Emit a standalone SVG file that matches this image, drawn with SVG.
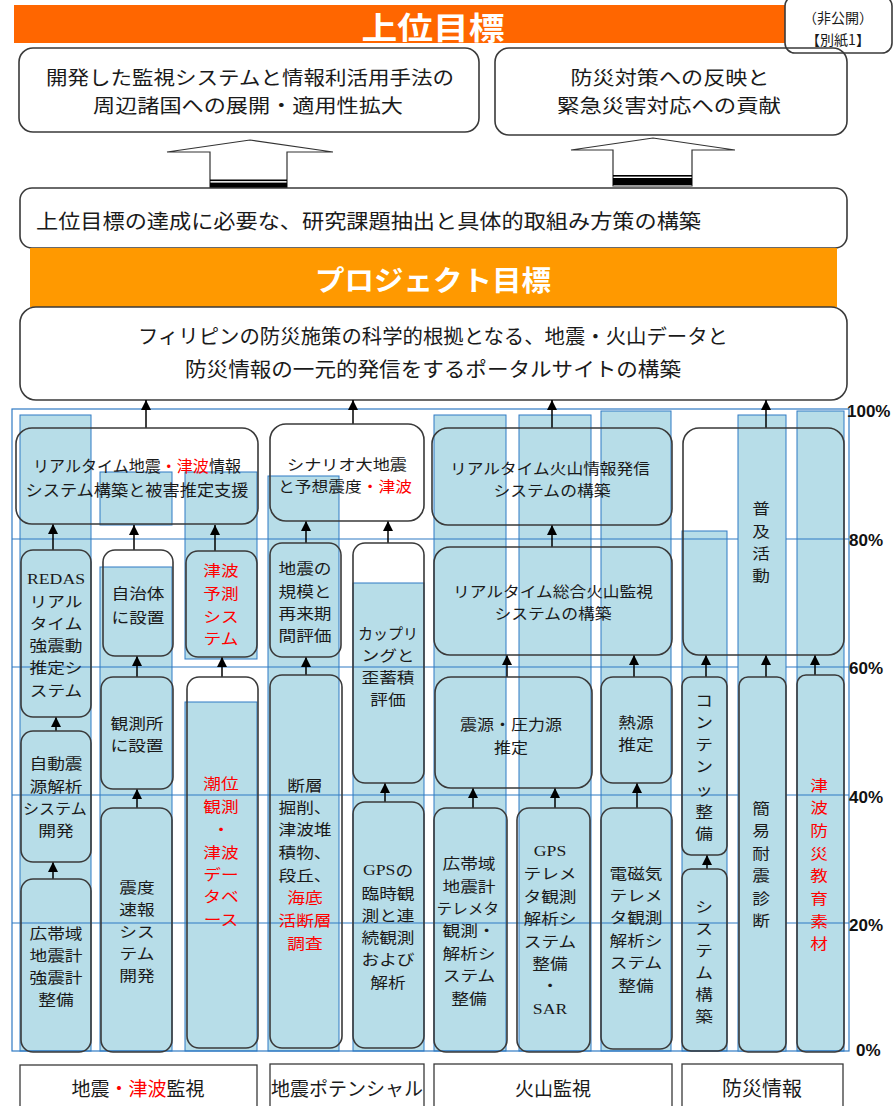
<svg xmlns="http://www.w3.org/2000/svg" width="896" height="1106" viewBox="0 0 896 1106">
<defs>
<marker id="ah" markerUnits="userSpaceOnUse" markerWidth="10" markerHeight="11" refX="10" refY="5" orient="auto" viewBox="0 0 10 10">
<path d="M0,0 L10,5 L0,10 z" fill="#000"/>
</marker>
<style>
text, tspan { font-family: "Noto Sans CJK JP", "Noto Sans", sans-serif; dominant-baseline: central; }
text { text-anchor: middle; fill: #1a1a1a; }
.c { font-size: 15px; }
.m { font-size: 15px; }
.big { font-size: 19px; }
.red { fill: #ff0000; }
.lat { font-family: "Liberation Serif", serif; }
.bar { fill: #b7dde8; stroke: #2f7ac4; stroke-width: 1; }
.grid { stroke: #2f7ac4; stroke-width: 1.2; fill: none; }
.box { fill: none; stroke: #3a3a3a; stroke-width: 1.6; }
.wbox { fill: #fff; stroke: #3a3a3a; stroke-width: 1.6; }
.cat { fill: #fff; stroke: #3a3a3a; stroke-width: 1.3; }
.arr { stroke: #000; stroke-width: 1.5; fill: none; marker-end: url(#ah); }
.pct { font-family: "Liberation Sans", sans-serif; font-weight: bold; font-size: 17px; text-anchor: start; fill: #111; }
.hollow { fill: #fff; stroke: #333; stroke-width: 1.2; }
</style>
</defs>
<rect width="896" height="1106" fill="#fff"/>

<!-- Header -->
<g id="banner-top">
<rect x="14" y="5" width="773" height="38" fill="#ff6600"/>
<text x="433" y="25" font-size="31" font-weight="bold" style="fill:#fff" textLength="143" lengthAdjust="spacingAndGlyphs">上位目標</text>
</g>
<g id="note">
<rect x="785" y="-4" width="107" height="57" rx="10" class="wbox"/>
<text x="838" y="17" font-size="14">（非公開）</text>
<text x="838" y="39" font-size="14">【別紙1】</text>
</g>
<g id="goalA">
<rect x="19" y="48" width="460" height="84" rx="14" class="box"/>
<text x="250" y="76.5" class="big" textLength="408" lengthAdjust="spacingAndGlyphs">開発した監視システムと情報利活用手法の</text>
<text x="248" y="104.5" class="big" textLength="310" lengthAdjust="spacingAndGlyphs">周辺諸国への展開・適用性拡大</text>
</g>
<g id="goalB">
<rect x="495" y="48" width="352" height="87" rx="14" class="box"/>
<text x="670" y="76.5" class="big" textLength="199" lengthAdjust="spacingAndGlyphs">防災対策への反映と</text>
<text x="669" y="104.5" class="big" textLength="224" lengthAdjust="spacingAndGlyphs">緊急災害対応への貢献</text>
</g>
<g id="bigArrows">
<polygon class="hollow" points="210,189 210,152 167,152 250,140 333,152 287,152 287,189"/>
<rect x="210" y="179.5" width="77" height="1.6" fill="#000"/>
<rect x="210" y="182.6" width="77" height="5.8" fill="#000"/>
<polygon class="hollow" points="613,186 613,150 571,150 653,138 735,150 692,150 692,186"/>
<rect x="613" y="175" width="79" height="1.6" fill="#000"/>
<rect x="613" y="178" width="79" height="7" fill="#000"/>
</g>
<g id="boxC">
<rect x="20" y="188" width="827" height="60" rx="12" class="wbox"/>
<text x="36" y="220" font-size="20" style="text-anchor:start" textLength="665" lengthAdjust="spacingAndGlyphs">上位目標の達成に必要な、研究課題抽出と具体的取組み方策の構築</text>
</g>
<g id="banner-project">
<rect x="30" y="248" width="807" height="59" fill="#ff9900"/>
<text x="433" y="279" font-size="28" font-weight="bold" style="fill:#fff" textLength="236" lengthAdjust="spacingAndGlyphs">プロジェクト目標</text>
</g>
<g id="boxD">
<rect x="20" y="307" width="827" height="93" rx="16" class="wbox"/>
<text x="433" y="335" font-size="20" textLength="590" lengthAdjust="spacingAndGlyphs">フィリピンの防災施策の科学的根拠となる、地震・火山データと</text>
<text x="433" y="368" font-size="20" textLength="496" lengthAdjust="spacingAndGlyphs">防災情報の一元的発信をするポータルサイトの構築</text>
</g>

<!-- Chart background: bars and grid -->
<g id="bars">
<rect class="bar" x="20" y="415" width="71" height="636"/>
<rect class="bar" x="100" y="472" width="72" height="53"/>
<rect class="bar" x="100" y="567" width="72" height="484"/>
<rect class="bar" x="185" y="472" width="72" height="187"/>
<rect class="bar" x="185" y="702" width="72" height="349"/>
<rect class="bar" x="268" y="476" width="71" height="575"/>
<rect class="bar" x="353" y="583" width="71" height="468"/>
<rect class="bar" x="434" y="415" width="72" height="636"/>
<rect class="bar" x="519" y="415" width="72" height="636"/>
<rect class="bar" x="601" y="411" width="70" height="640"/>
<rect class="bar" x="682" y="531" width="45" height="520"/>
<rect class="bar" x="797" y="411" width="47" height="640"/>
</g>
<g id="grid">
<rect class="grid" x="12" y="409" width="837" height="642"/>
<line class="grid" x1="12" y1="539" x2="849" y2="539"/>
<line class="grid" x1="12" y1="667" x2="849" y2="667"/>
<line class="grid" x1="12" y1="795" x2="849" y2="795"/>
<line class="grid" x1="12" y1="923" x2="849" y2="923"/>
<rect class="bar" x="738" y="415" width="48" height="636"/>
</g>
<g id="axis">
<text class="pct" x="847" y="411">100%</text>
<text class="pct" x="849" y="540">80%</text>
<text class="pct" x="849" y="668">60%</text>
<text class="pct" x="849" y="797">40%</text>
<text class="pct" x="849" y="925">20%</text>
<text class="pct" x="856" y="1050">0%</text>
</g>

<!-- Connectors -->
<g id="connectors">
<line class="arr" x1="146" y1="428" x2="146" y2="400"/>
<line class="arr" x1="353" y1="424" x2="353" y2="400"/>
<line class="arr" x1="552" y1="428" x2="552" y2="400"/>
<line class="arr" x1="766" y1="428" x2="766" y2="400"/>
<line class="arr" x1="53" y1="550" x2="53" y2="524"/>
<line class="arr" x1="134" y1="550" x2="134" y2="525"/>
<line class="arr" x1="215" y1="551" x2="215" y2="525"/>
<line class="arr" x1="306" y1="543" x2="306" y2="521"/>
<line class="arr" x1="388" y1="543" x2="388" y2="521"/>
<line class="arr" x1="552" y1="547" x2="552" y2="525"/>
<line class="arr" x1="56" y1="731" x2="56" y2="717"/>
<line class="arr" x1="137" y1="677" x2="137" y2="656"/>
<line class="arr" x1="222" y1="677" x2="222" y2="657"/>
<line class="arr" x1="306" y1="675" x2="306" y2="657"/>
<line class="arr" x1="385" y1="802" x2="385" y2="783"/>
<line class="arr" x1="507" y1="677" x2="507" y2="655"/>
<line class="arr" x1="634" y1="677" x2="634" y2="655"/>
<line class="arr" x1="706" y1="677" x2="706" y2="655"/>
<line class="arr" x1="766" y1="677" x2="766" y2="655"/>
<line class="arr" x1="815" y1="675" x2="815" y2="655"/>
<line class="arr" x1="53" y1="879" x2="53" y2="862"/>
<line class="arr" x1="137" y1="808" x2="137" y2="789"/>
<line class="arr" x1="473" y1="808" x2="473" y2="788"/>
<line class="arr" x1="555" y1="808" x2="555" y2="788"/>
<line class="arr" x1="637" y1="808" x2="637" y2="783"/>
<line class="arr" x1="707" y1="869" x2="707" y2="855"/>
</g>

<!-- Level boxes -->
<g id="n-rt-eq">
<rect class="box" x="16" y="428" width="242" height="96" rx="16"/>
<text x="137" y="465" font-size="16" textLength="208" lengthAdjust="spacingAndGlyphs">リアルタイム地震<tspan class="red">・津波</tspan>情報</text>
<text x="137" y="489" font-size="16" textLength="223" lengthAdjust="spacingAndGlyphs">システム構築と被害推定支援</text>
</g>
<g id="n-scenario">
<rect class="box" x="270" y="424" width="154" height="97" rx="16"/>
<text class="m" x="347" y="463" textLength="120" lengthAdjust="spacingAndGlyphs">シナリオ大地震</text>
<text class="m" x="345" y="485" textLength="134" lengthAdjust="spacingAndGlyphs">と予想震度<tspan class="red">・津波</tspan></text>
</g>
<g id="n-rt-volc">
<rect class="box" x="432" y="428" width="240" height="97" rx="16"/>
<text class="m" x="550" y="467" textLength="200" lengthAdjust="spacingAndGlyphs">リアルタイム火山情報発信</text>
<text class="m" x="552" y="489" textLength="117" lengthAdjust="spacingAndGlyphs">システムの構築</text>
</g>
<g id="n-fukyu">
<rect class="box" x="683" y="428" width="161" height="227" rx="16"/>
<text class="c" transform="translate(761 0) scale(1.18 1)"><tspan x="0" y="508">普</tspan><tspan x="0" y="531">及</tspan><tspan x="0" y="553">活</tspan><tspan x="0" y="575">動</tspan></text>
</g>
<g id="n-redas">
<rect class="box" x="21" y="550" width="70" height="167" rx="12"/>
<text class="c" transform="translate(56 0) scale(1.18 1)"><tspan class="lat" x="0" y="579">REDAS</tspan><tspan x="0" y="601">リアル</tspan><tspan x="0" y="623">タイム</tspan><tspan x="0" y="645">強震動</tspan><tspan x="0" y="667">推定シ</tspan><tspan x="0" y="690">ステム</tspan></text>
</g>
<g id="n-jichitai">
<rect class="box" x="103" y="550" width="70" height="106" rx="12"/>
<text class="c" transform="translate(138 0) scale(1.18 1)"><tspan x="0" y="593">自治体</tspan><tspan x="0" y="617">に設置</tspan></text>
</g>
<g id="n-tsunami-pred">
<rect class="box" x="186" y="551" width="71" height="106" rx="12"/>
<text class="c red" transform="translate(221 0) scale(1.18 1)"><tspan x="0" y="570">津波</tspan><tspan x="0" y="593">予測</tspan><tspan x="0" y="616">シス</tspan><tspan x="0" y="638">テム</tspan></text>
</g>
<g id="n-scale">
<rect class="box" x="270" y="543" width="71" height="114" rx="12"/>
<text class="c" transform="translate(305 0) scale(1.18 1)"><tspan x="0" y="568">地震の</tspan><tspan x="0" y="591">規模と</tspan><tspan x="0" y="613">再来期</tspan><tspan x="0" y="635">間評価</tspan></text>
</g>
<g id="n-coupling">
<rect class="box" x="353" y="543" width="71" height="240" rx="12"/>
<text class="c" transform="translate(388 0) scale(1.18 1)"><tspan x="0" y="633" textLength="51" lengthAdjust="spacingAndGlyphs">カップリ</tspan><tspan x="0" y="655">ングと</tspan><tspan x="0" y="677">歪蓄積</tspan><tspan x="0" y="699">評価</tspan></text>
</g>
<g id="n-sogo-volc">
<rect class="box" x="434" y="547" width="238" height="108" rx="16"/>
<text class="m" x="553" y="590" textLength="200" lengthAdjust="spacingAndGlyphs">リアルタイム総合火山監視</text>
<text class="m" x="553" y="612" textLength="117" lengthAdjust="spacingAndGlyphs">システムの構築</text>
</g>
<g id="n-jido">
<rect class="box" x="21" y="731" width="70" height="131" rx="12"/>
<text class="c" transform="translate(56 0) scale(1.18 1)"><tspan x="0" y="763">自動震</tspan><tspan x="0" y="786">源解析</tspan><tspan x="-1" y="808" textLength="54" lengthAdjust="spacingAndGlyphs">システム</tspan><tspan x="0" y="830">開発</tspan></text>
</g>
<g id="n-kansokusho">
<rect class="box" x="101" y="677" width="72" height="112" rx="12"/>
<text class="c" transform="translate(137 0) scale(1.18 1)"><tspan x="0" y="723">観測所</tspan><tspan x="0" y="745">に設置</tspan></text>
</g>
<g id="n-choi">
<rect class="box" x="187" y="677" width="71" height="371" rx="12"/>
<text class="c red" transform="translate(221 0) scale(1.18 1)"><tspan x="0" y="783">潮位</tspan><tspan x="0" y="806">観測</tspan><tspan x="0" y="829">・</tspan><tspan x="0" y="852">津波</tspan><tspan x="0" y="874">デー</tspan><tspan x="0" y="896">タベ</tspan><tspan x="0" y="919">ース</tspan></text>
</g>
<g id="n-danso">
<rect class="box" x="270" y="675" width="72" height="373" rx="12"/>
<text class="c" transform="translate(305 0) scale(1.18 1)"><tspan x="0" y="785">断層</tspan><tspan x="0" y="807">掘削、</tspan><tspan x="0" y="829">津波堆</tspan><tspan x="0" y="852">積物、</tspan><tspan x="0" y="875">段丘、</tspan><tspan class="red" x="0" y="897">海底</tspan><tspan class="red" x="0" y="920">活断層</tspan><tspan class="red" x="0" y="943">調査</tspan></text>
</g>
<g id="n-shingen">
<rect class="box" x="435" y="677" width="157" height="111" rx="16"/>
<text class="m" x="511" y="723" textLength="102" lengthAdjust="spacingAndGlyphs">震源・圧力源</text>
<text class="m" x="511" y="746" textLength="34" lengthAdjust="spacingAndGlyphs">推定</text>
</g>
<g id="n-netsugen">
<rect class="box" x="601" y="677" width="71" height="106" rx="12"/>
<text class="c" transform="translate(636 0) scale(1.18 1)"><tspan x="0" y="722">熱源</tspan><tspan x="0" y="744">推定</tspan></text>
</g>
<g id="n-contents">
<rect class="box" x="682" y="677" width="45" height="178" rx="9"/>
<text class="c" transform="translate(704 0) scale(1.18 1)"><tspan x="0" y="700">コ</tspan><tspan x="0" y="722">ン</tspan><tspan x="0" y="744">テ</tspan><tspan x="0" y="766">ン</tspan><tspan x="0" y="789">ッ</tspan><tspan x="0" y="811">整</tspan><tspan x="0" y="833">備</tspan></text>
</g>
<g id="n-kani">
<rect class="box" x="739" y="677" width="47" height="375" rx="9"/>
<text class="c" transform="translate(761 0) scale(1.18 1)"><tspan x="0" y="808">簡</tspan><tspan x="0" y="830">易</tspan><tspan x="0" y="853">耐</tspan><tspan x="0" y="875">震</tspan><tspan x="0" y="898">診</tspan><tspan x="0" y="920">断</tspan></text>
</g>
<g id="n-kyoiku">
<rect class="box" x="797" y="675" width="47" height="377" rx="9"/>
<text class="c red" transform="translate(819 0) scale(1.18 1)"><tspan x="0" y="785">津</tspan><tspan x="0" y="807">波</tspan><tspan x="0" y="830">防</tspan><tspan x="0" y="853">災</tspan><tspan x="0" y="875">教</tspan><tspan x="0" y="898">育</tspan><tspan x="0" y="921">素</tspan><tspan x="0" y="943">材</tspan></text>
</g>
<g id="n-kotaiiki1">
<rect class="box" x="21" y="879" width="70" height="173" rx="12"/>
<text class="c" transform="translate(56 0) scale(1.18 1)"><tspan x="0" y="933">広帯域</tspan><tspan x="0" y="955">地震計</tspan><tspan x="0" y="977">強震計</tspan><tspan x="0" y="999">整備</tspan></text>
</g>
<g id="n-shindo">
<rect class="box" x="101" y="808" width="71" height="244" rx="12"/>
<text class="c" transform="translate(137 0) scale(1.18 1)"><tspan x="0" y="887">震度</tspan><tspan x="0" y="909">速報</tspan><tspan x="0" y="931">シス</tspan><tspan x="0" y="953">テム</tspan><tspan x="0" y="975">開発</tspan></text>
</g>
<g id="n-gps-rinji">
<rect class="box" x="353" y="802" width="71" height="246" rx="12"/>
<text class="c" transform="translate(388 0) scale(1.18 1)"><tspan x="0" y="870"><tspan class="lat">GPS</tspan>の</tspan><tspan x="0" y="893">臨時観</tspan><tspan x="0" y="915">測と連</tspan><tspan x="0" y="937">続観測</tspan><tspan x="0" y="959">および</tspan><tspan x="0" y="982">解析</tspan></text>
</g>
<g id="n-kotaiiki2">
<rect class="box" x="434" y="808" width="73" height="244" rx="12"/>
<text class="c" transform="translate(469 0) scale(1.18 1)"><tspan x="0" y="863">広帯域</tspan><tspan x="0" y="886">地震計</tspan><tspan x="-1" y="908" textLength="53" lengthAdjust="spacingAndGlyphs">テレメタ</tspan><tspan x="0" y="930">観測・</tspan><tspan x="0" y="953">解析シ</tspan><tspan x="0" y="975">ステム</tspan><tspan x="0" y="998">整備</tspan></text>
</g>
<g id="n-gps-tele">
<rect class="box" x="517" y="808" width="73" height="244" rx="12"/>
<text class="c" transform="translate(550 0) scale(1.18 1)"><tspan class="lat" x="0" y="851">GPS</tspan><tspan x="0" y="873">テレメ</tspan><tspan x="0" y="896">タ観測</tspan><tspan x="0" y="918">解析シ</tspan><tspan x="0" y="941">ステム</tspan><tspan x="0" y="963">整備</tspan><tspan x="0" y="985">・</tspan><tspan class="lat" x="0" y="1009">SAR</tspan></text>
</g>
<g id="n-denji">
<rect class="box" x="601" y="808" width="71" height="241" rx="12"/>
<text class="c" transform="translate(636 0) scale(1.18 1)"><tspan x="0" y="873">電磁気</tspan><tspan x="0" y="895">テレメ</tspan><tspan x="0" y="917">タ観測</tspan><tspan x="0" y="940">解析シ</tspan><tspan x="0" y="962">ステム</tspan><tspan x="0" y="985">整備</tspan></text>
</g>
<g id="n-system">
<rect class="box" x="682" y="869" width="45" height="182" rx="9"/>
<text class="c" transform="translate(704 0) scale(1.18 1)"><tspan x="0" y="906">シ</tspan><tspan x="0" y="928">ス</tspan><tspan x="0" y="950">テ</tspan><tspan x="0" y="972">ム</tspan><tspan x="0" y="994">構</tspan><tspan x="0" y="1016">築</tspan></text>
</g>

<!-- Categories -->
<g id="cat-eq">
<rect class="cat" x="20" y="1065" width="237" height="60"/>
<text x="138" y="1087" font-size="19">地震<tspan class="red">・津波</tspan>監視</text>
</g>
<g id="cat-pot">
<rect class="cat" x="270" y="1064" width="154" height="60"/>
<text x="347" y="1087" font-size="19" textLength="152" lengthAdjust="spacingAndGlyphs">地震ポテンシャル</text>
</g>
<g id="cat-volc">
<rect class="cat" x="434" y="1064" width="238" height="60"/>
<text x="553" y="1087" font-size="19">火山監視</text>
</g>
<g id="cat-info">
<rect class="cat" x="682" y="1064" width="161" height="60"/>
<text x="762" y="1087" font-size="20">防災情報</text>
</g>
</svg>
